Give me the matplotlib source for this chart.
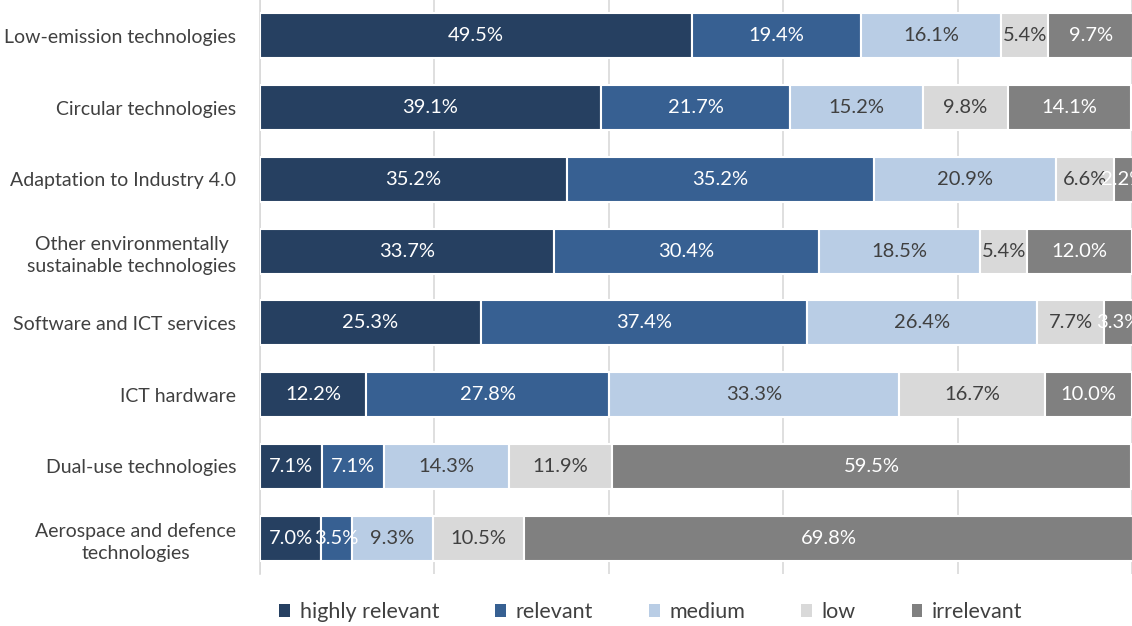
import matplotlib.pyplot as plt
from matplotlib.patches import Patch
import numpy as np

plt.rcParams['font.family'] = ['Lato', 'DejaVu Sans']

categories = ['Low-emission technologies', 'Circular technologies', 'Adaptation to Industry 4.0',
              'Other environmentally\nsustainable technologies', 'Software and ICT services',
              'ICT hardware', 'Dual-use technologies', 'Aerospace and defence\ntechnologies']
levels = ['highly relevant', 'relevant', 'medium', 'low', 'irrelevant']
highly_relevant = [49.5, 39.1, 35.2, 33.7, 25.3, 12.2, 7.1, 7.0]
relevant = [19.4, 21.7, 35.2, 30.4, 37.4, 27.8, 7.1, 3.5]
medium = [16.1, 15.2, 20.9, 18.5, 26.4, 33.3, 14.3, 9.3]
low = [5.4, 9.8, 6.6, 5.4, 7.7, 16.7, 11.9, 10.5]
irrelevant = [9.7, 14.1, 2.2, 12.0, 3.3, 10.0, 59.5, 69.8]

series = [highly_relevant, relevant, medium, low, irrelevant]
colors = ['#264061', '#376092', '#B9CDE5', '#D9D9D9', '#808080']
text_colors = ['white', 'white', '#404040', '#404040', 'white']

fig = plt.figure(figsize=(11.32, 6.26), dpi=100)
ax = fig.add_axes([260 / 1132, 1 - 574 / 626, 872 / 1132, 574 / 626])

y = np.arange(len(categories))
left = np.zeros(len(categories))
for vals, col, tcol in zip(series, colors, text_colors):
    vals = np.array(vals)
    ax.barh(y, vals, left=left, height=0.63, color=col, edgecolor='white', linewidth=1.5, zorder=3)
    for yi, (l, v) in enumerate(zip(left, vals)):
        ax.text(l + v / 2, yi, f'{v:.1f}%', ha='center', va='center', color=tcol,
                fontsize=14.5, zorder=4, clip_on=False)
    left += vals

ax.set_xlim(0, 100)
ax.set_ylim(len(categories) - 0.5, -0.5)
ax.set_xticks([0, 20, 40, 60, 80, 100])
ax.set_xticklabels([])
ax.grid(axis='x', color='#D9D9D9', linewidth=1.2, zorder=0)
ax.tick_params(axis='x', length=0)
ax.tick_params(axis='y', length=0, pad=17, labelsize=14, labelcolor='#404040')
ax.set_yticks(y)
ax.set_yticklabels(categories, multialignment='center', linespacing=1.35)
for s in ['top', 'right', 'bottom']:
    ax.spines[s].set_visible(False)
ax.spines['left'].set_color('#D9D9D9')
ax.spines['left'].set_linewidth(1.2)

handles = [Patch(facecolor=c, edgecolor='none') for c in colors]
leg = fig.legend(handles, levels, loc='center', bbox_to_anchor=(0.575, 0.022), ncol=5,
                 frameon=False, fontsize=15.5, handlelength=0.5, handleheight=0.55,
                 handletextpad=0.45, columnspacing=2.6)
for t in leg.get_texts():
    t.set_color('#404040')

fig.savefig('out.png', dpi=100)
